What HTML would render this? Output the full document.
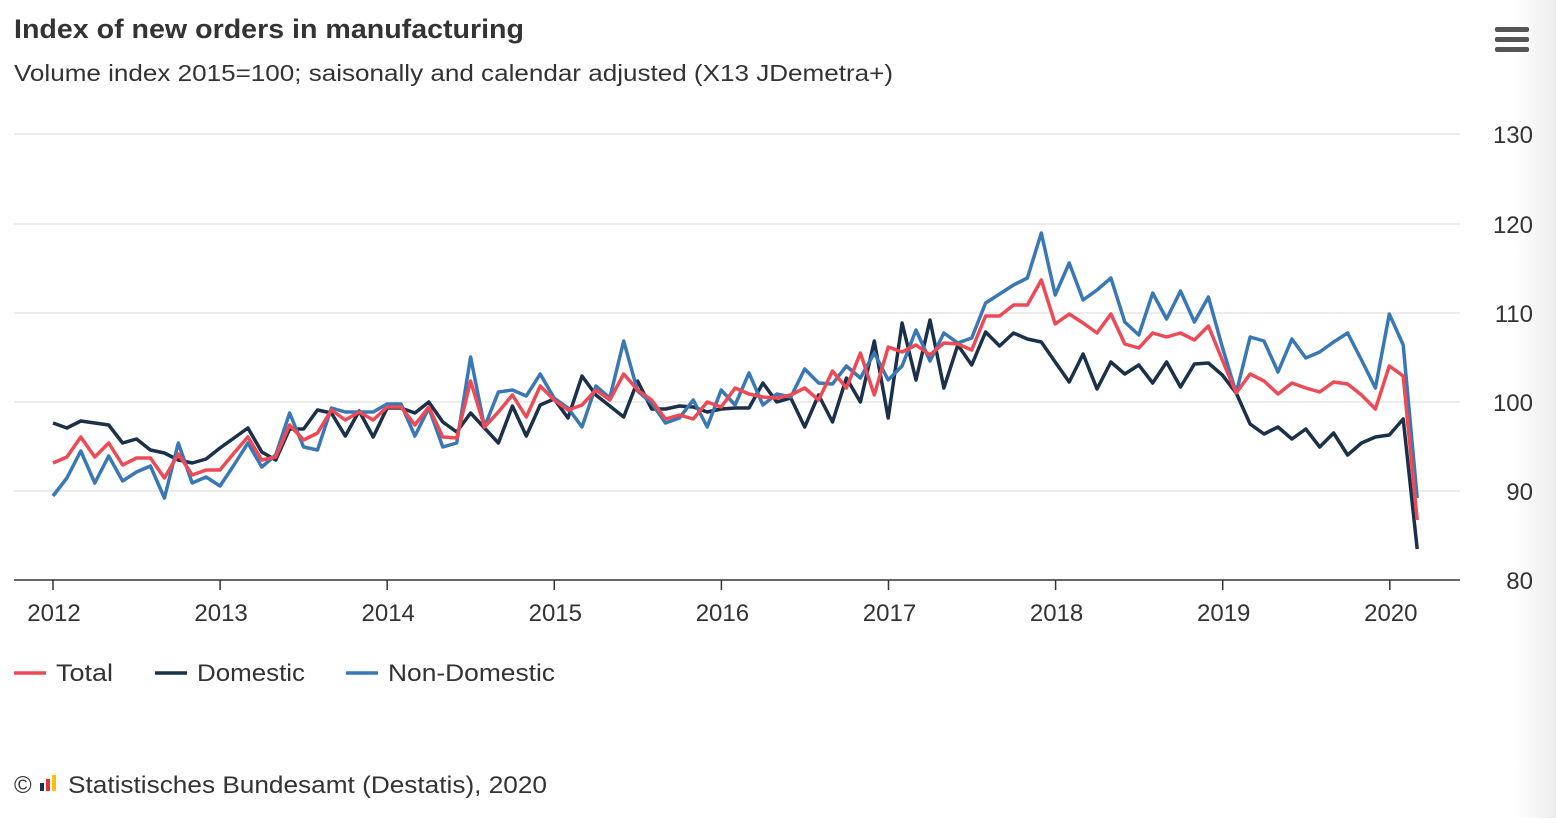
<!DOCTYPE html>
<html><head><meta charset="utf-8"><style>
body{margin:0;width:1556px;height:818px;background:#fff;overflow:hidden;font-family:"Liberation Sans",sans-serif;}
svg text{font-family:"Liberation Sans",sans-serif;}
</style></head><body>
<svg width="1556" height="818" xmlns="http://www.w3.org/2000/svg">
<defs><linearGradient id="g" x1="0" x2="1"><stop offset="0" stop-color="#fff"/><stop offset="1" stop-color="#ececec"/></linearGradient></defs>
<rect x="1515" y="0" width="41" height="818" fill="url(#g)"/>
<text x="14" y="38" font-size="27" font-weight="bold" fill="#333" textLength="510" lengthAdjust="spacingAndGlyphs">Index of new orders in manufacturing</text>
<text x="14" y="81" font-size="23" fill="#333" textLength="879" lengthAdjust="spacingAndGlyphs">Volume index 2015=100; saisonally and calendar adjusted (X13 JDemetra+)</text>
<g fill="#555"><rect x="1495" y="27" width="34" height="5" rx="2"/><rect x="1495" y="37" width="34" height="5" rx="2"/><rect x="1495" y="47" width="34" height="5" rx="2"/></g>
<g stroke="#e6e6e6" stroke-width="1.5">
<line x1="14" x2="1460" y1="134" y2="134"/><line x1="14" x2="1460" y1="224" y2="224"/><line x1="14" x2="1460" y1="313" y2="313"/><line x1="14" x2="1460" y1="402" y2="402"/><line x1="14" x2="1460" y1="491" y2="491"/></g>
<line x1="14" x2="1460" y1="580" y2="580" stroke="#333" stroke-width="1.5"/>
<g font-size="24" fill="#333" text-anchor="end">
<text x="1533" y="143">130</text><text x="1533" y="233">120</text><text x="1533" y="322">110</text><text x="1533" y="411">100</text><text x="1533" y="500">90</text><text x="1533" y="589">80</text></g>
<g font-size="24" fill="#333" text-anchor="middle" id="xl"></g>
<g stroke="#333" stroke-width="1.5" id="xt"></g>
<g fill="none" stroke-width="3.5" stroke-linejoin="round">
<polyline id="pd" stroke="#1b3049"/>
<polyline id="pb" stroke="#3a78b5"/>
<polyline id="pr" stroke="#ee4a56"/>
</g>
<g font-size="24" fill="#333">
<line x1="14" x2="46" y1="673" y2="673" stroke="#ee4a56" stroke-width="3.5"/><text x="56" y="681" textLength="57" lengthAdjust="spacingAndGlyphs">Total</text>
<line x1="155" x2="187" y1="673" y2="673" stroke="#1b3049" stroke-width="3.5"/><text x="197" y="681" textLength="108" lengthAdjust="spacingAndGlyphs">Domestic</text>
<line x1="346" x2="378" y1="673" y2="673" stroke="#3a78b5" stroke-width="3.5"/><text x="388" y="681" textLength="167" lengthAdjust="spacingAndGlyphs">Non-Domestic</text>
<text x="14" y="793">©</text>
<rect x="40" y="783" width="4" height="8" fill="#1b3049"/><rect x="46" y="779" width="4" height="12" fill="#e8303a"/><rect x="52" y="775" width="4" height="16" fill="#f2c500"/>
<text x="68" y="793" textLength="479" lengthAdjust="spacingAndGlyphs">Statistisches Bundesamt (Destatis), 2020</text></g>
</svg>
<script>
var R=[463,457,437,457,443,465,458,458,478,454,475,470,470,453,437,460,457,425,440,433,410,420,412,420,407,407,425,407,437,438,381,427,412,395,417,386,400,410,405,390,400,374,390,400,419,415,419,402,407,388,394,397,398,395,388,400,371,388,353,395,347,352,345,355,343,344,350,316,316,305,305,280,324,314,323,333,314,344,348,333,337,333,340,326,360,393,374,381,394,383,388,392,382,384,395,409,366,376,520];
var B=[496,478,451,483,456,481,472,466,498,443,483,477,486,465,443,467,455,413,447,450,408,412,412,412,404,404,436,408,447,443,357,427,392,390,396,374,398,408,427,386,398,341,391,403,423,418,400,427,390,405,373,405,394,397,369,383,384,366,378,353,380,366,330,361,333,343,338,303,294,285,278,233,295,263,300,290,278,322,335,293,319,291,322,297,347,393,337,341,372,339,358,352,342,333,360,388,314,345,498];
var D=[423,428,421,423,425,443,439,450,453,460,463,459,448,438,428,452,460,429,429,410,413,436,411,437,408,408,413,402,422,432,413,428,443,406,436,405,399,418,376,395,406,417,381,409,409,406,407,412,409,408,408,383,402,398,427,395,422,378,402,341,418,323,380,320,388,345,365,332,346,333,339,342,362,382,354,389,362,374,365,383,362,387,364,363,375,393,424,434,427,439,429,447,433,455,443,437,435,419,549];
function p(a){return a.map(function(y,i){return (53+i*13.92).toFixed(1)+","+y}).join(" ");}
document.getElementById("pr").setAttribute("points",p(R));
document.getElementById("pb").setAttribute("points",p(B));
document.getElementById("pd").setAttribute("points",p(D));
var ns="http://www.w3.org/2000/svg",xl=document.getElementById("xl"),xt=document.getElementById("xt");
for(var k=0;k<=8;k++){var x=53+k*167.1;var t=document.createElementNS(ns,"text");t.setAttribute("x",x+1);t.setAttribute("y",621);t.textContent=2012+k;xl.appendChild(t);
var l=document.createElementNS(ns,"line");l.setAttribute("x1",x);l.setAttribute("x2",x);l.setAttribute("y1",580);l.setAttribute("y2",590);xt.appendChild(l);}
</script>
</body></html>
